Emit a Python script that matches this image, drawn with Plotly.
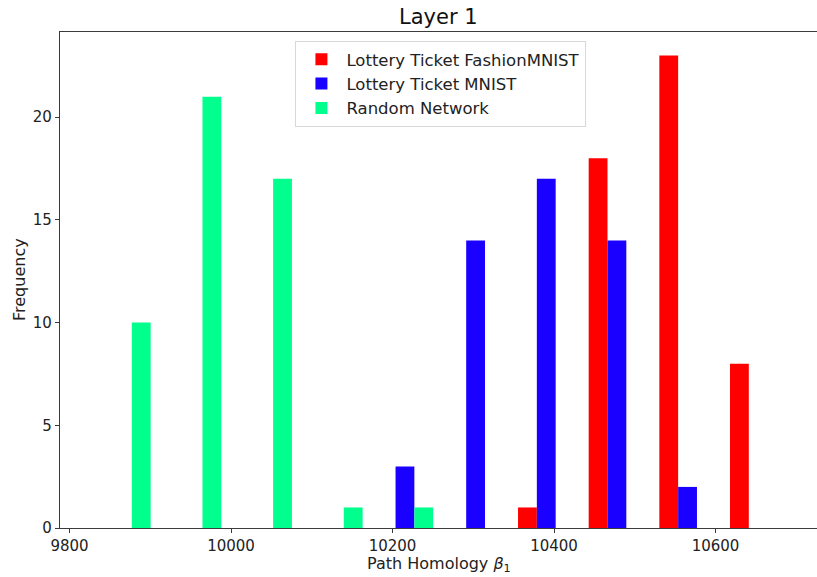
import plotly.graph_objects as go

# Histogram bin centers (Path Homology beta_1) and counts per series
bin_centers = [9865.5, 9953.0, 10040.5, 10128.0, 10215.4,
               10302.9, 10390.4, 10477.9, 10565.4, 10652.9]
fashion_counts = [0, 0, 0, 0, 0, 0, 1, 18, 23, 8]
mnist_counts = [0, 0, 0, 0, 3, 14, 17, 14, 2, 0]
random_counts = [10, 21, 17, 1, 1, 0, 0, 0, 0, 0]

series_names = ["Lottery Ticket FashionMNIST", "Lottery Ticket MNIST", "Random Network"]
series_colors = ["#ff0000", "#1a00ff", "#00ff8c"]
y_ticks = [0, 5, 10, 15, 20]
x_ticks = [9800, 10000, 10200, 10400, 10600]

FONT = "DejaVu Sans, Liberation Sans, sans-serif"
AX = "#3a3a3a"

fig = go.Figure()
for name, color, vals in zip(series_names, series_colors,
                             [fashion_counts, mnist_counts, random_counts]):
    fig.add_trace(go.Bar(x=bin_centers, y=vals, name=name,
                         marker=dict(color=color, line=dict(width=0))))

fig.update_layout(
    width=817, height=577,
    barmode="group", bargap=0.2, bargroupgap=0,
    plot_bgcolor="white", paper_bgcolor="white",
    margin=dict(l=60, r=0, t=32, b=49, autoexpand=False),
    font=dict(family=FONT, size=15, color="#222222"),
    legend=dict(x=0.311, y=0.982, xanchor="left", yanchor="top",
                bgcolor="white", bordercolor="#d8d8d8", borderwidth=1,
                font=dict(family=FONT, size=16.5, color="#222222"),
                itemsizing="constant", itemwidth=40, tracegroupgap=0),
    showlegend=True,
    annotations=[
        dict(text="Layer 1", xref="paper", yref="paper", x=0.5, y=1,
             xanchor="center", yanchor="bottom", yshift=1, showarrow=False,
             font=dict(family=FONT, size=21, color="#111111")),
        dict(text="Path Homology <i>β</i><sub>1</sub>", xref="paper", yref="paper",
             x=0.5, y=0, xanchor="center", yanchor="middle", yshift=-36,
             showarrow=False, font=dict(family=FONT, size=16, color="#222222")),
        dict(text="Frequency", xref="paper", yref="paper", x=0, y=0.5,
             xanchor="center", yanchor="middle", xshift=-41, textangle=-90,
             showarrow=False, font=dict(family=FONT, size=16, color="#222222")),
    ],
)
fig.update_xaxes(
    range=[9788.2, 10725.7], tickvals=x_ticks,
    ticktext=[str(t) for t in x_ticks], automargin=False,
    showgrid=False, zeroline=False,
    showline=True, linecolor=AX, linewidth=1.2, mirror=True,
    ticks="outside", ticklen=4, tickcolor=AX, tickwidth=1,
    tickfont=dict(size=15),
)
fig.update_yaxes(
    range=[0, 24.15], tickvals=y_ticks, automargin=False,
    showgrid=False, zeroline=False,
    showline=True, linecolor=AX, linewidth=1.2, mirror=False,
    ticks="outside", ticklen=4, tickcolor=AX, tickwidth=1,
    tickfont=dict(size=15),
)

fig.write_html("out.html", config={"displayModeBar": False},
               post_script="document.body.style.margin='0';document.body.style.padding='0';")
